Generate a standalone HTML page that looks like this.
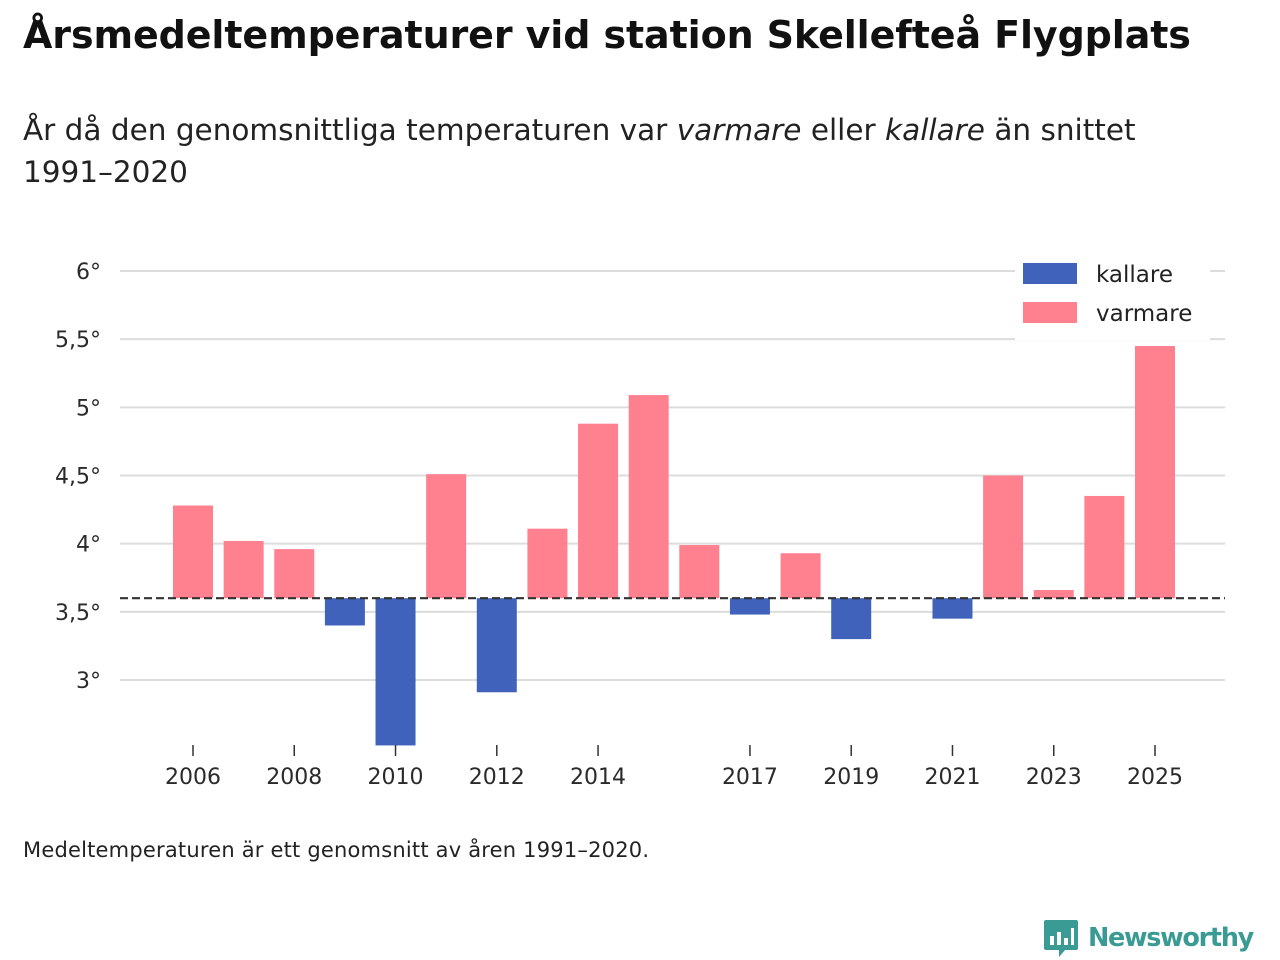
<!DOCTYPE html>
<html><head><meta charset="utf-8"><style>
body{margin:0;width:1280px;height:960px;background:#fff;font-family:"DejaVu Sans","Liberation Sans",sans-serif;color:#111;position:relative;overflow:hidden}
#title{position:absolute;left:23px;top:13px;font-size:38px;font-weight:bold;letter-spacing:-0.1px;white-space:nowrap}
#sub{position:absolute;left:23px;top:109px;font-size:29.5px;line-height:42px;width:1180px;color:#222}
#note{position:absolute;left:23px;top:838px;font-size:21px;color:#222;letter-spacing:0.2px}
#logo{position:absolute;left:1043px;top:918px;display:flex;align-items:center}
#logo span{font-size:25.5px;font-weight:bold;color:#3a9b94;margin-left:9px;letter-spacing:-1.3px}
</style></head><body>
<div id="title">Årsmedeltemperaturer vid station Skellefteå Flygplats</div>
<div id="sub">År då den genomsnittliga temperaturen var <i>varmare</i> eller <i>kallare</i> än snittet<br>1991–2020</div>
<svg id="chart" width="1280" height="960" style="position:absolute;left:0;top:0"></svg>
<div id="note">Medeltemperaturen är ett genomsnitt av åren 1991–2020.</div>
<div id="logo">
<svg width="36" height="40" viewBox="0 0 36 40"><path d="M3 2h30a2 2 0 0 1 2 2v26a2 2 0 0 1-2 2H22l-6 7v-7H3a2 2 0 0 1-2-2V4a2 2 0 0 1 2-2z" fill="#3a9b94"/><rect x="7" y="18" width="4" height="9" fill="#fff"/><rect x="14" y="14" width="4" height="13" fill="#fff"/><rect x="21" y="20" width="4" height="7" fill="#fff"/><rect x="28" y="10" width="3" height="17" fill="#fff"/></svg>
<span>Newsworthy</span></div>
<script>
const years=[2006,2007,2008,2009,2010,2011,2012,2013,2014,2015,2016,2017,2018,2019,2021,2022,2023,2024,2025];
const temps=[4.28,4.02,3.96,3.40,2.52,4.51,2.91,4.11,4.88,5.09,3.99,3.48,3.93,3.30,3.45,4.50,3.66,4.35,5.45];
const baseline=3.6;
const yTicks=[3,3.5,4,4.5,5,5.5,6];
const yTickLabels=["3°","3,5°","4°","4,5°","5°","5,5°","6°"];
const xTicks=[2006,2008,2010,2012,2014,2017,2019,2021,2023,2025];
const NS="http://www.w3.org/2000/svg";
const svg=document.getElementById('chart');
const x=y=>193+(y-2006)*(962/19);
const yS=v=>680-(v-3)*(409/3);
function mk(t,a){const e=document.createElementNS(NS,t);for(const k in a)e.setAttribute(k,a[k]);svg.appendChild(e);return e;}
yTicks.forEach((t,i)=>{
 const g=mk('line',{x1:120,x2:1225,y1:yS(t),y2:yS(t),stroke:'#dcdcdc','stroke-width':2});
 
 
 const l=mk('text',{x:101,y:yS(t)+8,'text-anchor':'end','font-size':22,fill:'#2a2a2a'});
 l.textContent=yTickLabels[i];
 
 
});
years.forEach((yr,i)=>{
 const v=temps[i];const top=yS(Math.max(v,baseline)),bot=yS(Math.min(v,baseline));
 const r=mk('rect',{x:x(yr)-20,y:top,width:40,height:Math.max(bot-top,0.5),fill:v>=baseline?'#ff808f':'#4062bb'});
 
 
});
const bl=mk('line',{x1:120,x2:1225,y1:yS(baseline),y2:yS(baseline),stroke:'#333','stroke-width':2.2,'stroke-dasharray':'8,4'});


xTicks.forEach(t=>{
 const tk=mk('line',{x1:x(t),x2:x(t),y1:745,y2:756,stroke:'#333','stroke-width':1.5});
 
 
 const l=mk('text',{x:x(t),y:784,'text-anchor':'middle','font-size':22,fill:'#2a2a2a'});
 l.textContent=t;
 
 
});
const lg=mk('rect',{x:1015,y:258,width:195,height:82,fill:'#fff'});


[['kallare','#4062bb',263],['varmare','#ff808f',302]].forEach(([n,c,yy])=>{
 const s=mk('rect',{x:1023,y:yy,width:54,height:21,fill:c});
 
 
 const t=mk('text',{x:1096,y:yy+19,'font-size':23,fill:'#222'});
 t.textContent=n;
 
 
});
</script>
</body></html>
